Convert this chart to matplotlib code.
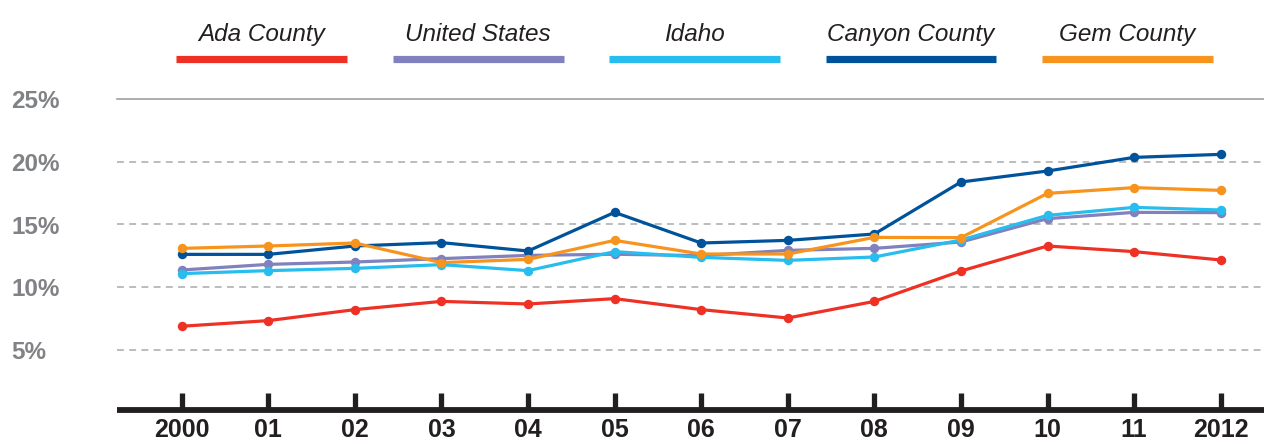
import matplotlib
matplotlib.use('Agg')
import matplotlib.pyplot as plt
from matplotlib.lines import Line2D
from matplotlib import font_manager

years = ['2000', '01', '02', '03', '04', '05', '06', '07', '08', '09', '10', '11', '2012']

ada = [6.86, 7.31, 8.19, 8.85, 8.64, 9.07, 8.19, 7.52, 8.85, 11.28, 13.28, 12.83, 12.16]
us = [11.36, 11.81, 12.0, 12.27, 12.53, 12.62, 12.51, 12.93, 13.09, 13.6, 15.47, 15.97, 15.95]
idaho = [11.07, 11.31, 11.49, 11.79, 11.31, 12.83, 12.37, 12.13, 12.4, 13.76, 15.73, 16.37, 16.16]
canyon = [12.61, 12.61, 13.28, 13.55, 12.88, 15.97, 13.52, 13.73, 14.24, 18.4, 19.28, 20.37, 20.61]
gem = [13.09, 13.28, 13.52, 11.95, 12.21, 13.73, 12.64, 12.64, 13.97, 13.95, 17.49, 17.95, 17.73]

names = ['Ada County', 'United States', 'Idaho', 'Canyon County', 'Gem County']
series = [ada, us, idaho, canyon, gem]
colors = ['#ee3124', '#8181bd', '#27bdee', '#00529b', '#f7941d']

yticks = [5, 10, 15, 20, 25]

# condensed font if there is one, else plain Liberation Sans a bit smaller
installed = {f.name for f in font_manager.fontManager.ttflist}
if 'Liberation Sans Narrow' in installed:
    narrow, xsize, lsize = ['Liberation Sans Narrow', 'DejaVu Sans'], 21, 20
else:
    narrow, xsize, lsize = ['Liberation Sans', 'DejaVu Sans'], 18, 17.5

fig = plt.figure(figsize=(12.64, 4.44), dpi=100)
ax = fig.add_axes([117 / 1264, 34 / 444, 1 - 117 / 1264, 310.5 / 444])

x = list(range(len(years)))
for vals, c in zip(series, colors):
    ax.plot(x, vals, color=c, lw=2.3, marker='o', ms=6.8, mec=c, mew=0,
            solid_joinstyle='round', clip_on=False)

ax.set_xlim(-0.747, 12.5)
ax.set_ylim(0.16, 25)

# grid
for v in yticks[:-1]:
    ax.axhline(v, color='#a7a9ac', lw=1.1, ls=(0, (4.5, 3.5)), zorder=0)

for s in ['left', 'right']:
    ax.spines[s].set_visible(False)
ax.spines['top'].set_color('#9d9fa2')
ax.spines['top'].set_linewidth(1.2)
ax.spines['bottom'].set_color('#231f20')
ax.spines['bottom'].set_linewidth(4.2)
ax.spines['bottom'].set_capstyle('butt')

ax.set_xticks(x)
ax.set_xticklabels(years, family=narrow, fontweight='bold', fontsize=xsize, color='#231f20')
ax.tick_params(axis='x', direction='in', length=12, width=3.8, color='#231f20', pad=6)

ax.set_yticks(yticks)
ax.set_yticklabels([f'{v}%' for v in yticks], family=['Liberation Sans', 'DejaVu Sans'],
                   fontweight='bold', fontsize=17.5, color='#808285')
ax.tick_params(axis='y', length=0, pad=76)
for lbl in ax.get_yticklabels():
    lbl.set_horizontalalignment('left')

# legend across the top
for i, (name, c) in enumerate(zip(names, colors)):
    x0 = (176 + i * 216.5) / 1264
    w = 171 / 1264
    fig.add_artist(Line2D([x0, x0 + w], [0.868, 0.868], color=c, lw=5.2,
                          solid_capstyle='butt', transform=fig.transFigure))
    fig.text(x0 + w / 2, 0.908, name, ha='center', va='baseline', family=narrow,
             style='italic', fontsize=lsize, color='#231f20')

fig.savefig('out.png', dpi=100)
